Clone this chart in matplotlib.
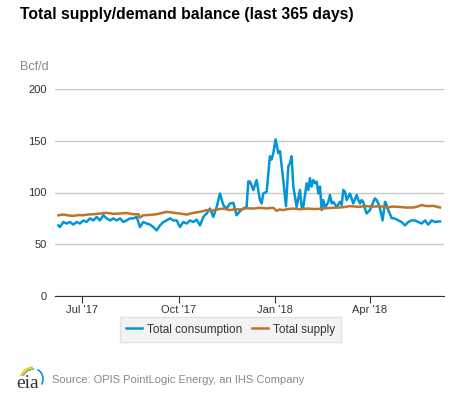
import numpy as np
import pandas as pd
import matplotlib
matplotlib.use("Agg")
import matplotlib.pyplot as plt
import matplotlib.dates as mdates
from matplotlib.patches import Arc

plt.rcParams['font.family'] = ['Liberation Sans', 'DejaVu Sans']

# days after 1 Jul 2017
base = pd.Timestamp("2017-07-01")
cons_days = [-22.5, -21, -17.8, -14.6, -11.4, -8.3, -5.1, -1.9, 1.3, 4.4, 7.6, 10.8, 14, 17.1,
             20.3, 23.5, 26.7, 29.8, 33, 36.2, 39.4, 42.5, 45.7, 48.9, 52.1, 55.2, 58.4, 61.6,
             64.8, 67.9, 71.1, 74.3, 77.5, 80.6, 83.8, 87, 90.2, 93.3, 96.5, 99.7, 102.9, 106,
             109.2, 112.4, 115.6, 118.7, 121.9, 125.1, 128.3, 131.4, 134.6, 137.8, 141, 144.1,
             147.3, 150.5, 153.7, 156.8, 158.4, 160, 163.2, 166.3, 169.5, 171.1, 172.7, 175.9,
             179, 180.6, 182.2, 184.4, 187, 188.6, 191.7, 194.3, 196.5, 198.1, 199.7, 201.3,
             204.4, 207.6, 209.2, 210.8, 214, 215.6, 217.1, 218.7, 220.3, 221.9, 223.5, 225.1,
             226.7, 228.3, 229.8, 231.4, 233, 234.6, 236.2, 237.8, 239.4, 242.5, 245.7, 247.3,
             248.9, 250.5, 252.1, 255.2, 258.4, 261.6, 263.2, 264.8, 266.3, 267.9, 269.5, 271.1,
             274.3, 277.5, 279, 280.6, 282.2, 283.8, 286.3, 288.6, 290.2, 291.7, 294.9, 298.1,
             301.3, 304.4, 307.6, 310.8, 314, 317.1, 320.3, 323.5, 326.7, 329.8, 333, 336.2,
             339.4, 341]
consumption = [68.2, 66.6, 71.5, 70, 71.5, 69, 71.5, 70, 73, 71.5, 75, 73, 76.4, 73,
               78, 75, 73, 75, 73, 75, 71.5, 73, 75, 75, 76.4, 66.6, 71.5, 70,
               69, 66.6, 63.4, 68.2, 71.5, 73, 75, 73, 73, 66.6, 71.5, 70, 73, 71.5,
               73.8, 68.2, 76.4, 79.7, 84.5, 76.4, 86, 99, 87.8, 84.5, 89.4, 90,
               78, 82, 84.5, 86, 110.6, 110.6, 102.4, 112, 92.7, 89.4, 99, 100.8,
               135, 131.8, 138, 151.3, 138, 140, 112, 86.8, 125, 128.5, 135, 105.7,
               86, 102.4, 86, 86, 109, 102.4, 113.8, 105.7, 112, 109, 110.6, 99,
               105.7, 83, 92.7, 86, 87.8, 91, 97.6, 89.4, 91, 86, 91, 87.8,
               102.4, 100.8, 92.7, 99, 89.4, 97.6, 92.7, 89.4, 92.7, 91, 84.5, 79.7,
               83, 91, 94.3, 92.7, 89.4, 84.5, 73, 91, 87.8, 83, 75.4, 74.8,
               73, 71.5, 68.2, 71.5, 73, 73, 71.5, 70, 73, 69, 73, 71.5,
               72, 72]

supp_days = [-22.5, -17.8, -13, -8.3, -3, 1.3, 6, 10.8, 17, 23.5, 30, 36.2, 42, 48.9, 53.7,
             55.2, 58.4, 65, 71.1, 76, 80.6, 87, 93.3, 99.7, 106, 112.4, 118.7, 124, 128.3,
             134.6, 141, 146, 150.5, 157, 163.2, 169.5, 176, 182.2, 185.4, 188, 191.7, 196,
             201.3, 208, 214, 222, 229.8, 238, 245.7, 250, 255.2, 263, 271.1, 277, 283.8,
             290.2, 296, 302.9, 309, 315.6, 320, 323.5, 329, 334.6, 341]
supply = [78, 78.7, 77.8, 77.4, 78.2, 78, 78.8, 79, 79.6, 80.3, 79.4, 79.7, 80.2, 79, 79,
          75.7, 78, 78.4, 79, 80.2, 81.3, 80.5, 79.7, 78.7, 80.3, 81.3, 83, 82.4, 83.6,
          84.5, 83, 83.8, 83.6, 84.8, 84.5, 85.2, 84.6, 85.2, 82.2, 83.6, 83, 84,
          84.5, 83.8, 84.5, 84, 84.5, 85.2, 85.5, 86, 86.8, 86.2, 86.8, 86.3, 86.8,
          85.5, 86.4, 86, 85.4, 85.5, 86.6, 87.8, 86.8, 87.1, 85.5]

yticks = [0, 50, 100, 150, 200]

fig = plt.figure(figsize=(4.77, 3.93), dpi=100)
ax = fig.add_axes([55 / 477, 1 - 296 / 393, 389 / 477, 207 / 393])

cx = base + pd.to_timedelta(cons_days, unit="D")
sx = base + pd.to_timedelta(supp_days, unit="D")
ax.plot(cx, consumption, color="#0096d7", lw=1.8, label="Total consumption", zorder=3)
ax.plot(sx, supply, color="#bd732a", lw=1.8, label="Total supply", zorder=3)

ax.set_xlim(base - pd.Timedelta(days=25.7), base + pd.Timedelta(days=344.8))
ax.set_ylim(0, 200)
ax.set_yticks(yticks)
ax.yaxis.grid(True, color="#c8c8c8", lw=1)
ax.set_axisbelow(True)
ax.xaxis.set_major_locator(mdates.MonthLocator(bymonth=[1, 4, 7, 10]))
ax.xaxis.set_major_formatter(mdates.DateFormatter("%b '%y"))
for s in ["top", "right", "left"]:
    ax.spines[s].set_visible(False)
ax.spines["bottom"].set_color("#333333")
ax.spines["bottom"].set_zorder(4)
ax.tick_params(axis="y", length=0, pad=6, labelsize=8, labelcolor="#333333")
ax.tick_params(axis="x", length=5, color="#333333", labelsize=8, labelcolor="#333333", pad=1.5)

fig.text(20 / 477, 1 - 14 / 393, "Total supply/demand balance (last 365 days)",
         fontsize=11.3, fontweight="bold", va="center", ha="left")
fig.text(20 / 477, 1 - 67 / 393, "Bcf/d", fontsize=9, color="#888888", va="center", ha="left")

leg = fig.legend(loc="center", bbox_to_anchor=(230.5 / 477, 1 - 329.5 / 393), ncol=2,
                 fontsize=8.5, frameon=True, fancybox=False, facecolor="#f0f0f0",
                 edgecolor="#dddddd", handlelength=1.36, columnspacing=0.76,
                 handletextpad=0.42, borderpad=0.55)
for t in leg.get_texts():
    t.set_color("#333333")

fig.text(52 / 477, 1 - 380 / 393, "Source: OPIS PointLogic Energy, an IHS Company",
         fontsize=8, color="#888888", va="center", ha="left")
# eia logo
fig.text(28 / 477, 1 - 383 / 393, "eia", family=["Liberation Serif", "DejaVu Serif"],
         fontsize=14, color="#333333", ha="center", va="center")
lx = fig.add_axes([14 / 477, 1 - 385 / 393, 30 / 477, 22 / 393])
lx.set_xlim(0, 30)
lx.set_ylim(0, 22)
lx.axis("off")
lx.add_patch(Arc((20, 4), 28, 28, theta1=95, theta2=160, color="#f2c318", lw=1.2))
lx.add_patch(Arc((20, 4), 24, 24, theta1=90, theta2=155, color="#7ab648", lw=1.2))
lx.add_patch(Arc((18, 6), 22, 22, theta1=-30, theta2=60, color="#0096d7", lw=1.2))

fig.savefig("out.png", dpi=100)
